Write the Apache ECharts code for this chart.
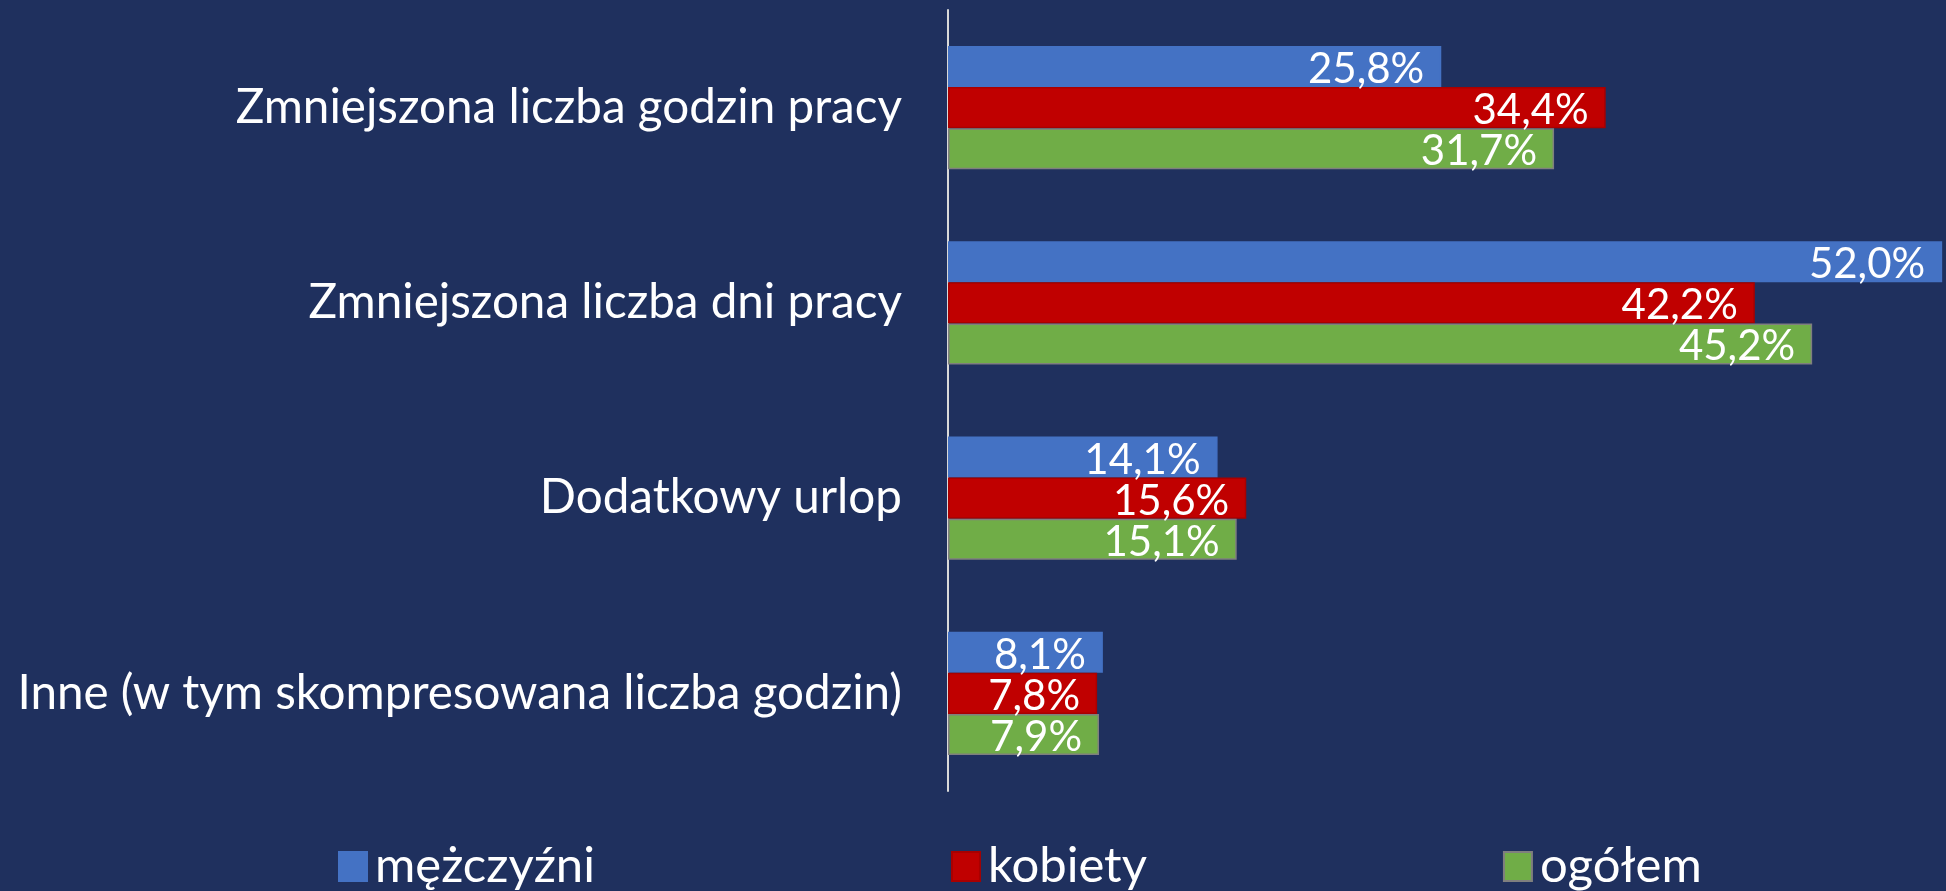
<!DOCTYPE html>
<html>
<head>
<meta charset="utf-8">
<title>Formy elastycznej pracy</title>
<script src="https://cdn.jsdelivr.net/npm/echarts@6/dist/echarts.min.js"></script>
<style>
  html, body { margin: 0; padding: 0; background: #1f305e; }
  #chart { width: 1946px; height: 891px; }
</style>
</head>
<body>
<div id="chart"></div>
<script>
// kategorie (od gory)
var categories = [
    "Zmniejszona liczba godzin pracy",
    "Zmniejszona liczba dni pracy",
    "Dodatkowy urlop",
    "Inne (w tym skompresowana liczba godzin)"
];
var seriesNames = ["mężczyźni", "kobiety", "ogółem"];
var mezczyzni = [25.8, 52.0, 14.1, 8.1];
var kobiety = [34.4, 42.2, 15.6, 7.8];
var ogolem = [31.7, 45.2, 15.1, 7.9];

var colors = ["#4472c4", "#c00000", "#70ad47"];
var borders = ["#4472c4", "#a80000", "#7f7f7f"];

function fmt(p) {
    return p.value.toFixed(1).replace(".", ",") + "%";
}

function makeSeries(name, data, i) {
    return {
        name: name,
        type: "bar",
        data: data,
        barGap: "0%",
        barCategoryGap: "37%",
        itemStyle: { color: colors[i], borderColor: borders[i], borderWidth: 1.5 },
        label: {
            show: true,
            position: "insideRight",
            distance: 17,
            offset: [0, 3],
            color: "#ffffff",
            fontFamily: "Lato",
            fontSize: 42,
            formatter: fmt
        }
    };
}

var myChart = echarts.init(document.getElementById("chart"));

var option = {
    backgroundColor: "#1f305e",
    animation: false,
    grid: { left: 948, right: 0, top: 10, height: 781 },
    xAxis: {
        type: "value",
        min: 0,
        max: 52.2,
        show: false
    },
    yAxis: {
        type: "category",
        inverse: true,
        data: categories,
        axisTick: { show: false },
        axisLine: { show: true, lineStyle: { color: "#d9d9d9", width: 2 } },
        axisLabel: {
            color: "#ffffff",
            fontFamily: "Lato",
            fontSize: 47.6,
            margin: 46
        }
    },
    legend: {
        left: 333,
        top: 837,
        itemWidth: 28,
        itemHeight: 29,
        itemGap: 356,
        icon: "rect",
        textStyle: {
            color: "#ffffff",
            fontFamily: "Lato",
            fontSize: 49,
            padding: [0, 0, 0, 3]
        },
        data: seriesNames
    },
    series: [
        makeSeries(seriesNames[0], mezczyzni, 0),
        makeSeries(seriesNames[1], kobiety, 1),
        makeSeries(seriesNames[2], ogolem, 2)
    ]
};

myChart.setOption(option);
</script>
</body>
</html>
